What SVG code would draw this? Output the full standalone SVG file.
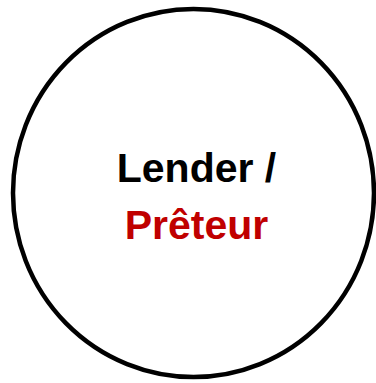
<svg xmlns="http://www.w3.org/2000/svg" width="376" height="383" viewBox="0 0 376 383">
  <style>
    .node-shape { fill: #ffffff; stroke: #000000; stroke-width: 4.5; }
    .label { font-family: "Liberation Sans", Arial, sans-serif; font-weight: bold; font-size: 41px; text-anchor: middle; }
    .en { fill: #000000; }
    .fr { fill: #C00000; }
  </style>
  <rect width="376" height="383" fill="#ffffff"/>
  <g id="connectors"></g>
  <g id="node-lender">
    <ellipse class="node-shape" cx="193.5" cy="193" rx="180.5" ry="184"/>
    <text class="label en" x="196.5" y="181.5">Lender /</text>
    <text class="label fr" x="196.5" y="239">Prêteur</text>
  </g>
</svg>
